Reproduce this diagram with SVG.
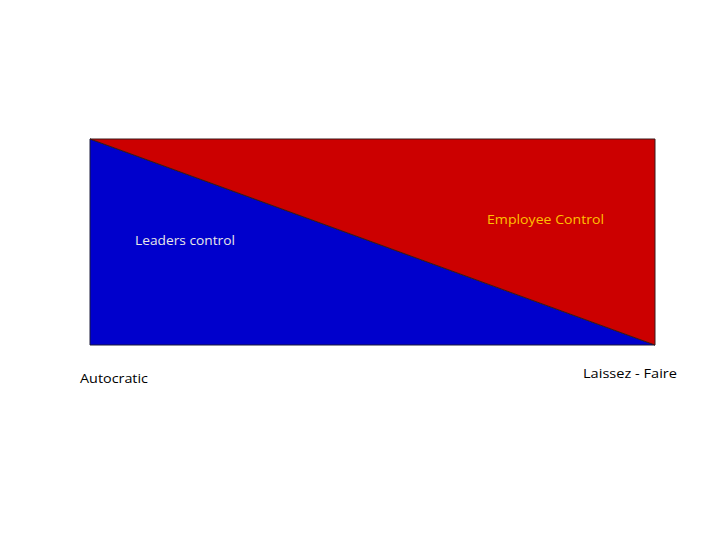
<svg xmlns="http://www.w3.org/2000/svg" width="728" height="546" viewBox="0 0 728 546">
<style>
text{font-family:"Open Sans","Liberation Sans",sans-serif;font-size:13px}
.lbl{fill:#000}
</style>
<rect width="728" height="546" fill="#fff"/>
<g id="blue-region"><polygon points="90,139 655,345 90,345" fill="#0000CC" stroke="#1a1a3a" stroke-width="1"/></g>
<g id="red-region"><polygon points="90,139 655,139 655,345" fill="#CC0000" stroke="#3a1a1a" stroke-width="1"/></g>
<g id="labels">
<text x="135" y="245" fill="#E8E8E8" textLength="100" lengthAdjust="spacingAndGlyphs">Leaders control</text>
<text x="487" y="224" fill="#FFC000" textLength="117" lengthAdjust="spacingAndGlyphs">Employee Control</text>
<text class="lbl" x="80" y="383" textLength="68" lengthAdjust="spacingAndGlyphs">Autocratic</text>
<text class="lbl" x="583" y="378" textLength="94" lengthAdjust="spacingAndGlyphs">Laissez  - Faire</text>
</g>
</svg>
